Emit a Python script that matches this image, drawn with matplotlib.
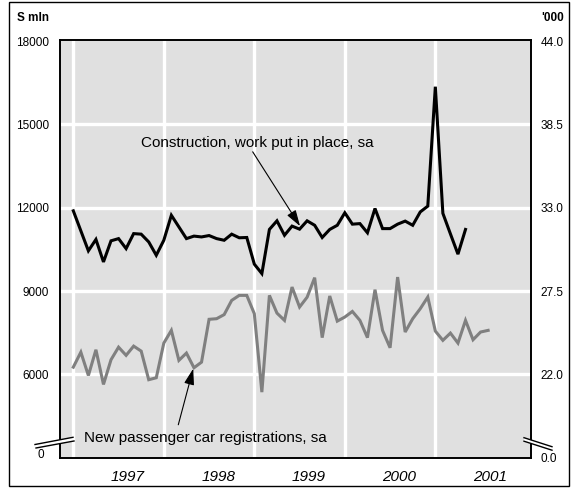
import matplotlib
import numpy as np

matplotlib.use("Agg")
import matplotlib.pyplot as plt  # noqa: E402
from matplotlib.lines import Line2D  # noqa: E402
from matplotlib.patches import Polygon, Rectangle  # noqa: E402

plt.rcParams["font.family"] = ["Liberation Sans", "DejaVu Sans"]

# monthly series, first value = Jan 1997
construction = [  # $ mln, left axis
    11890, 11170, 10450, 10860, 10050, 10810, 10890, 10530, 11070, 11050, 10770, 10290,
    10830, 11730, 11310, 10890, 10980, 10950, 11000, 10890, 10830, 11050, 10920, 10930,
    9970, 9630, 11220, 11530, 11010, 11340, 11230, 11530, 11370, 10930, 11220, 11370,
    11820, 11410, 11430, 11100, 11975, 11250, 11250, 11410, 11520, 11370, 11850, 12060,
    16360, 11800, 11060, 10330, 11220,
]
cars = [  # '000, right axis
    22.48, 23.47, 21.93, 23.63, 21.34, 22.97, 23.80, 23.26, 23.87, 23.54, 21.65, 21.78,
    24.07, 24.91, 22.93, 23.41, 22.44, 22.81, 25.64, 25.68, 25.95, 26.89, 27.22, 27.22,
    26.01, 20.83, 27.22, 26.05, 25.57, 27.77, 26.45, 27.10, 28.39, 24.43, 27.18, 25.52,
    25.79, 26.16, 25.57, 24.43, 27.60, 24.91, 23.76, 28.43, 24.80, 25.68, 26.34, 27.11,
    24.86, 24.25, 24.73, 24.07, 25.57, 24.29, 24.80, 24.91,
]
years = [1997, 1998, 1999, 2000, 2001]
left_ticks = [3000, 6000, 9000, 12000, 15000, 18000]
left_labels = ["", "6000", "9000", "12000", "15000", "18000"]
right_ticks = [16.5, 22.0, 27.5, 33.0, 38.5, 44.0]
right_labels = ["0.0", "22.0", "27.5", "33.0", "38.5", "44.0"]

W, H = 575, 488
fig = plt.figure(figsize=(W / 100, H / 100), dpi=100)


def fx(px):
    return px / W


def fy(py):
    return 1 - py / H


ax = fig.add_axes([fx(60), fy(457.7), fx(531) - fx(60), fy(39.5) - fy(457.7)])
ax.set_facecolor("#e0e0e0")
ax.set_xlim(1996.853, 2002.057)
ax.set_ylim(3000, 18060)

# white grid
for v in left_ticks[1:-1]:
    ax.axhline(v, color="white", lw=2.4, zorder=0.5)
for yr in years:
    ax.axvline(yr, color="white", lw=2.4, zorder=0.5)

x_con = 1997 + np.arange(len(construction)) / 12
x_car = 1997 + np.arange(len(cars)) / 12
ax.plot(x_con, construction, color="black", lw=2.2, solid_joinstyle="miter", zorder=3)

ax.set_yticks(left_ticks)
ax.set_yticklabels(left_labels)
ax.set_xticks([y + 0.6 for y in years])
ax.set_xticklabels([str(y) for y in years], fontstyle="italic", fontsize=11)
ax.tick_params(axis="y", length=0, pad=8, labelsize=8.5)
ax.tick_params(axis="x", length=0, pad=9)

ax2 = ax.twinx()
ax2.set_ylim(16.5, 44.12)
ax2.plot(x_car, cars, color="#808080", lw=2.2, solid_joinstyle="miter", zorder=3)
ax2.set_yticks(right_ticks)
ax2.set_yticklabels(right_labels)
ax2.tick_params(axis="y", length=0, pad=7, labelsize=8.5)

for a in (ax, ax2):
    for s in a.spines.values():
        s.set_color("black")
        s.set_linewidth(1.2)

# annotations
ax.text(1999.03, 14330, "Construction, work put in place, sa",
        ha="center", va="center", fontsize=11)
ax.annotate("", xy=(1999.505, 11340), xytext=(1998.982, 14016),
            arrowprops=dict(arrowstyle="-|>,head_length=0.7,head_width=0.22",
                            color="black", lw=0.8, shrinkA=0, shrinkB=0,
                            mutation_scale=14))
ax.text(1998.455, 3717, "New passenger car registrations, sa",
        ha="center", va="center", fontsize=11)
ax.annotate("", xy=(1998.325, 6206), xytext=(1998.16, 4186),
            arrowprops=dict(arrowstyle="-|>,head_length=0.7,head_width=0.22",
                            color="black", lw=0.8, shrinkA=0, shrinkB=0,
                            mutation_scale=14))

# axis units and the "0" below the break
fig.text(fx(17), fy(18), "S mln", fontweight="bold", fontsize=8.5, ha="left", va="center")
fig.text(fx(541.5), fy(18), "'000", fontweight="bold", fontsize=8.5, ha="left", va="center")
fig.text(fx(44), fy(455), "0", fontsize=8.5, ha="right", va="center")


# axis break marks
def brk(p1, p2, q1, q2):
    poly = Polygon([(fx(p1[0]), fy(p1[1])), (fx(p2[0]), fy(p2[1])),
                    (fx(q2[0]), fy(q2[1])), (fx(q1[0]), fy(q1[1]))],
                   closed=True, transform=fig.transFigure, fc="white", ec="none", zorder=5)
    fig.add_artist(poly)
    for a, b in ((p1, p2), (q1, q2)):
        fig.add_artist(Line2D([fx(a[0]), fx(b[0])], [fy(a[1]), fy(b[1])],
                              transform=fig.transFigure, color="black", lw=1, zorder=6))


brk((35, 444.5), (73, 437.3), (36, 448), (74, 441))
brk((524, 437.7), (552, 446.7), (524, 441.2), (552, 450.2))

# outer frame
fig.add_artist(Rectangle((fx(9), fy(486)), fx(569) - fx(9), fy(2) - fy(486),
                         transform=fig.transFigure, fill=False, lw=1, ec="black"))

fig.savefig("out.png", dpi=100)
